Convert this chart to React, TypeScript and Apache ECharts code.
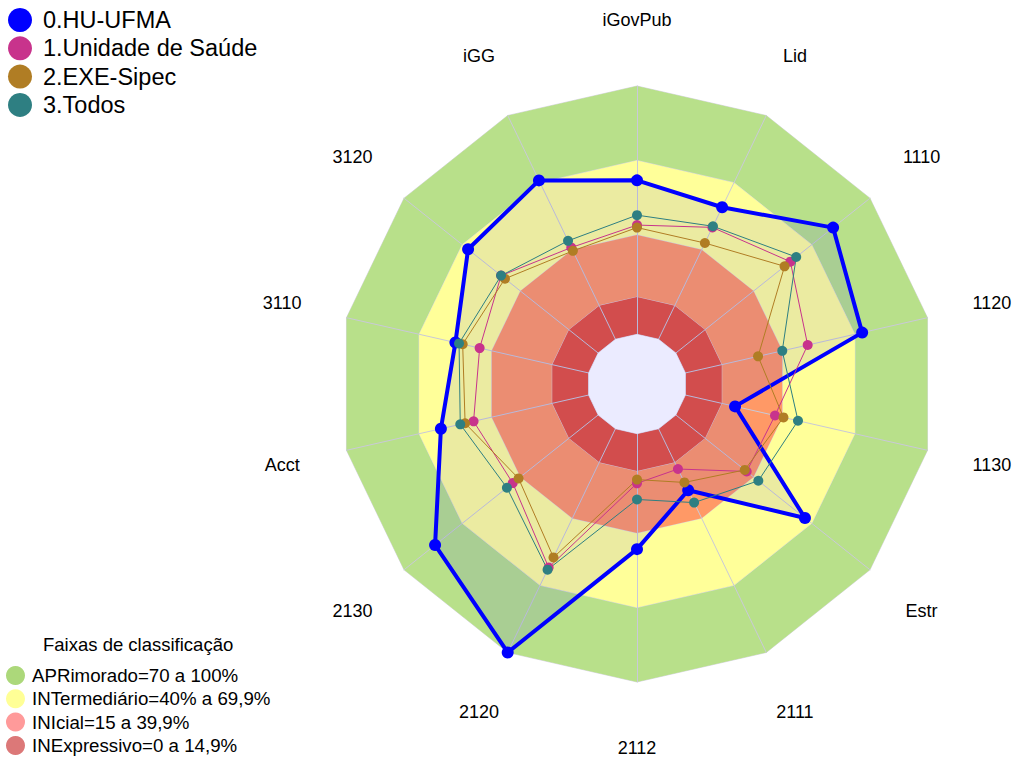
import React, { useEffect, useRef } from "react";
import * as echarts from "echarts";

const indicators = ["iGovPub", "Lid", "1110", "1120", "1130", "Estr", "2111", "2112", "2120", "2130", "Acct", "3110", "3120", "iGG"];
const huUfma = [62, 59, 81, 73, 20.5, 66.5, 27.5, 46.5, 100, 84, 61, 55, 67, 71];
const unidadeSaude = [44, 50, 59, 50.5, 37, 36.5, 18, 20, 62, 44, 47.5, 45, 50, 41];
const exeSipec = [43, 43, 56, 30, 40.5, 35.5, 24, 18.5, 57.5, 41, 51, 52, 48, 39.5];
const todos = [48, 50.5, 62, 40, 46.5, 42.5, 33, 26.5, 63, 47, 53, 53.5, 50, 44];

const seriesNames = ["0.HU-UFMA", "1.Unidade de Saúde", "2.EXE-Sipec", "3.Todos"];
const seriesColors = ["#0000ff", "#c8338c", "#b07d24", "#2e7f82"];

const bandNames = ["APRimorado=70 a 100%", "INTermediário=40% a 69,9%", "INIcial=15 a 39,9%", "INExpressivo=0 a 14,9%"];
const bandUpper = [100, 70, 40, 15];
const bandFill = ["#b8e08a", "#ffff99", "#ff9966", "#e4543e"];
const bandLegendColor = ["#acd87a", "#ffff96", "#ff9a9a", "#dc7878"];

// ECharts radar runs counter-clockwise; reorder so the chart reads clockwise
const cw = <T,>(arr: T[]): T[] => arr.map((_, i) => arr[i === 0 ? 0 : arr.length - i]);

export default function App() {
  const ref = useRef<HTMLDivElement>(null);
  useEffect(() => {
    if (!ref.current) return;
    const chart = echarts.init(ref.current, undefined, { renderer: "svg" });
    const font = "Liberation Sans, Arial, sans-serif";
    const n = indicators.length;

    const bandSeries = bandNames.map((name, i) => ({
      type: "radar",
      name,
      z: 1,
      silent: true,
      symbol: "none",
      itemStyle: { color: bandLegendColor[i] },
      lineStyle: { color: "rgba(215,212,228,0.9)", width: 1 },
      areaStyle: { color: bandFill[i], opacity: 1 },
      data: [{ value: new Array(n).fill(bandUpper[i]) }],
    }));

    const centerSeries = {
      type: "radar",
      name: "centro",
      z: 3,
      silent: true,
      symbol: "none",
      lineStyle: { color: "rgba(215,212,228,0.9)", width: 1 },
      areaStyle: { color: "#ffffff", opacity: 1 },
      data: [{ value: new Array(n).fill(0) }],
    };

    const dataArrays = [huUfma, unidadeSaude, exeSipec, todos];
    const dataSeries = dataArrays.map((arr, i) => ({
      type: "radar",
      name: seriesNames[i],
      z: i === 0 ? 4 : 5,
      symbol: "circle",
      symbolSize: i === 0 ? 12 : 10,
      itemStyle: { color: seriesColors[i] },
      lineStyle: { color: seriesColors[i], width: i === 0 ? 4 : 1 },
      areaStyle: i === 0 ? { color: "rgba(0,0,255,0.11)" } : undefined,
      data: [{ value: cw(arr) }],
    }));

    chart.setOption({
      animation: false,
      title: {
        text: "Faixas de classificação",
        left: 43,
        top: 635,
        padding: 0,
        textStyle: { fontSize: 18.5, fontWeight: "normal", color: "#000", fontFamily: font },
      },
      legend: [
        {
          data: seriesNames,
          orient: "vertical",
          left: 8,
          top: 8,
          padding: 0,
          itemWidth: 24,
          itemHeight: 24,
          itemGap: 4.3,
          icon: "circle",
          selectedMode: false,
          textStyle: { fontSize: 23.5, color: "#000", fontFamily: font, padding: [0, 0, 0, 6] },
        },
        {
          data: bandNames,
          orient: "vertical",
          left: 6,
          top: 666,
          padding: 0,
          itemWidth: 19,
          itemHeight: 19,
          itemGap: 4.3,
          icon: "circle",
          selectedMode: false,
          textStyle: { fontSize: 18.7, color: "#000", fontFamily: font, padding: [0, 0, 0, 2] },
        },
      ],
      radar: {
        center: [637, 384],
        radius: 298,
        startAngle: 90,
        shape: "polygon",
        z: 2,
        nameGap: 66,
        indicator: cw(indicators).map((name) => ({ name, min: -20, max: 100 })),
        axisName: { color: "#000", fontSize: 18, fontFamily: font, align: "center", verticalAlign: "middle" },
        axisLine: { lineStyle: { color: "#c9c9d8", width: 1 } },
        splitLine: { show: false },
        splitArea: { show: false },
        axisTick: { show: false },
        axisLabel: { show: false },
      },
      series: [...bandSeries, centerSeries, ...dataSeries],
    });
    return () => chart.dispose();
  }, []);
  return <div ref={ref} style={{ position: "absolute", left: 0, top: 0, width: 1015, height: 763 }} />;
}
